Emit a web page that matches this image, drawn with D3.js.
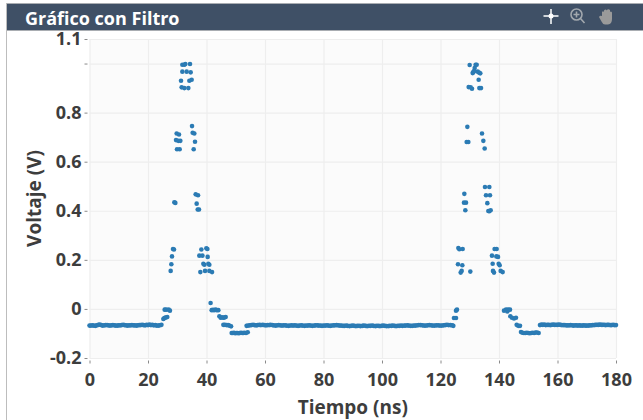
<!DOCTYPE html>
<html>
<head>
<meta charset="utf-8">
<script src="https://cdn.jsdelivr.net/npm/d3@7"></script>
<style>
  html, body { margin: 0; padding: 0; background: #fff; }
  text { font-family: "Open Sans", sans-serif; font-weight: 700; }
</style>
</head>
<body>
<div id="chart"></div>
<script>
// values
var xTicks = [0, 20, 40, 60, 80, 100, 120, 140, 160, 180];
var yTicks = [-0.2, 0, 0.2, 0.4, 0.6, 0.8, 1, 1.1];
var yTickLabels = ["-0.2", "0", "0.2", "0.4", "0.6", "0.8", "", "1.1"];

// flat part before the first pulse
var startVolts = [-0.068,-0.068,-0.067,-0.068,-0.069,-0.067,-0.065,-0.064,-0.066,-0.068,-0.067,-0.066,-0.066,-0.067,-0.068,-0.067,-0.066,-0.067,-0.068,-0.068,-0.067,-0.067,-0.066,-0.065,-0.066,-0.067,-0.068,-0.067,-0.067,-0.066,-0.067,-0.067,-0.068,-0.067,-0.066,-0.066,-0.065,-0.066,-0.067,-0.065,-0.066,-0.064,-0.066,-0.065,-0.067,-0.066,-0.068,-0.068,-0.067,-0.065];
var startTimes = [0,0.5,1,1.5,2,2.5,3,3.5,4,4.5,5,5.5,6,6.5,7,7.5,8,8.5,9,9.5,10,10.5,11,11.5,12,12.5,13,13.5,14,14.5,15,15.5,16,16.5,17,17.5,18,18.5,19,19.5,20,20.5,21,21.5,22,22.5,23,23.5,24,24.6];

// first pulse
var pulse1Times = [25.25,25.5,25.8,26.1,26.6,25.7,26.2,27.07,27.5,27.75,27.98,28.2,28.55,28.89,29,29.35,29.58,29.8,29.92,30.37,30.6,30.83,31.06,31.29,31.51,31.74,31.74,32.43,32.43,32.77,33.22,33.79,34.14,34.36,34.59,34.93,35.05,35.27,35.62,35.84,36.07,36.3,36.64,37,37.1,37.44,37.55,37.9,38.24,38.6,38.92,39.26,39.5,39.95,40.3,40.4,40.63,40.97,40.97,41.4,41.9,41.77,42.2,42.6,43.1,43.5,44.05,44.4,44.85,45.3,45.76,46.1,46.56,45.76,46.3,46.9,47.4,47.8,48.4,48.6,49,49.4,49.8,50.2,50.6,51,51.4,51.8,52.2,52.6,53,53.5,54.1];
var pulse1Volts = [-0.041,-0.038,-0.036,-0.035,-0.033,-0.003,-0.003,-0.003,-0.007,0.155,0.182,0.214,0.244,0.242,0.435,0.432,0.688,0.715,0.651,0.685,0.711,0.651,0.685,0.93,0.903,0.995,0.967,0.995,0.9,0.998,0.967,0.9,0.93,0.998,0.964,0.934,0.745,0.718,0.651,0.715,0.681,0.467,0.429,0.405,0.463,0.405,0.217,0.15,0.242,0.217,0.184,0.18,0.155,0.247,0.244,0.212,0.184,0.18,0.155,0.024,0.15,-0.005,-0.004,-0.005,-0.003,-0.005,-0.005,-0.03,-0.036,-0.034,-0.036,-0.035,-0.033,-0.065,-0.065,-0.066,-0.066,-0.068,-0.071,-0.098,-0.098,-0.097,-0.099,-0.098,-0.098,-0.099,-0.098,-0.097,-0.098,-0.098,-0.097,-0.098,-0.095];

// flat part between the pulses
var midVolts = [-0.069,-0.068,-0.067,-0.066,-0.065,-0.066,-0.067,-0.066,-0.065,-0.066,-0.065,-0.066,-0.067,-0.066,-0.066,-0.065,-0.066,-0.067,-0.068,-0.067,-0.066,-0.067,-0.068,-0.067,-0.067,-0.068,-0.069,-0.068,-0.067,-0.068,-0.067,-0.068,-0.069,-0.068,-0.067,-0.068,-0.069,-0.068,-0.068,-0.067,-0.068,-0.069,-0.068,-0.067,-0.067,-0.068,-0.068,-0.069,-0.068,-0.068,-0.067,-0.068,-0.069,-0.068,-0.067,-0.067,-0.066,-0.067,-0.068,-0.068,-0.069,-0.069,-0.068,-0.069,-0.07,-0.069,-0.068,-0.069,-0.07,-0.069,-0.069,-0.07,-0.069,-0.068,-0.069,-0.07,-0.069,-0.069,-0.068,-0.069,-0.07,-0.069,-0.069,-0.07,-0.069,-0.068,-0.069,-0.07,-0.07,-0.069,-0.069,-0.068,-0.069,-0.07,-0.069,-0.069,-0.068,-0.069,-0.068,-0.068,-0.067,-0.068,-0.069,-0.069,-0.068,-0.068];
var midTimes = [53.7,54.2,54.8,55.3,55.9,56.4,57,57.5,58.1,58.6,59.2,59.7,60.3,60.8,61.4,61.9,62.5,63,63.6,64.1,64.7,65.2,65.8,66.3,66.9,67.4,68,68.5,69.1,69.6,70.2,70.7,71.3,71.8,72.4,72.9,73.5,74,74.6,75.1,75.7,76.2,76.8,77.3,77.9,78.4,79,79.5,80.1,80.6,81.2,81.7,82.3,82.8,83.4,83.9,84.5,85,85.6,86.1,86.7,87.2,87.8,88.3,88.9,89.4,90,90.5,91.1,91.6,92.2,92.7,93.3,93.8,94.4,94.9,95.5,96,96.6,97.1,97.7,98.2,98.8,99.3,99.9,100.4,101,101.5,102.1,102.6,103.2,103.7,104.3,104.8,105.4,105.9,106.5,107,107.6,108.1,108.7,109.2,109.8,110.3,110.9,111.4];
var mid2Times = [112,112.6,113.2,113.8,114.4,115,115.6,116.2,116.8,117.4,118,118.6,119.2,119.8,120.4,121,121.6,122.2,122.8,123.4,124,124.39];
var mid2Volts = [-0.067,-0.066,-0.066,-0.067,-0.068,-0.068,-0.067,-0.066,-0.067,-0.068,-0.068,-0.067,-0.067,-0.068,-0.068,-0.067,-0.066,-0.065,-0.066,-0.066,-0.067,-0.069];

// second pulse
var pulse2Times = [124.6,125.3,125.3,125.64,125.98,126.1,126.44,126.9,127.24,127.46,127.58,128.03,128.15,128.49,128.72,128.95,129.18,129.52,129.63,129.97,130.2,130.3,130.77,131,131.2,131.45,131.68,132,132.37,132.71,133.05,133.16,133.28,133.6,133.85,134.19,134.65,135.1,135.21,135.56,136.01,136.35,136.69,136.7,136.92,137.15,137.6,137.83,137.95,138.29,138.5,139.09,139.2,139.66,139.89,140.23,140.57,141.25,141.71,142.39,142.85,143.08,143.76,143.87,144.44,145.13,145.81,146.04,146.6,147.18,147.52,148,148.5,149,149.5,150,150.5,151,151.5,152,152.5,153,153.56];
var pulse2Volts = [-0.037,-0.037,-0.007,-0.003,0.182,0.248,0.243,0.148,0.155,0.178,0.244,0.433,0.469,0.402,0.433,0.68,0.742,0.68,0.904,0.994,0.152,0.903,0.897,0.961,0.965,0.969,0.982,0.995,0.995,0.967,0.934,0.963,0.9,0.96,0.9,0.715,0.685,0.654,0.497,0.463,0.431,0.399,0.497,0.398,0.463,0.402,0.217,0.184,0.155,0.148,0.244,0.214,0.244,0.212,0.184,0.178,0.155,0.15,-0.007,-0.003,-0.01,-0.003,-0.003,-0.03,-0.036,-0.039,-0.036,-0.065,-0.069,-0.069,-0.094,-0.097,-0.098,-0.098,-0.097,-0.098,-0.099,-0.098,-0.097,-0.098,-0.096,-0.096,-0.098];

// flat part after the second pulse
var endTimes = [154,154.5,155,155.5,156,156.5,157,157.5,158,158.5,159,159.5,160,160.5,161,161.5,162,162.5,163,163.5,164,164.5,165,165.5,166,166.5,167,167.5,168,168.5,169,169.5,170,170.5,171,171.5,172,172.5,173,173.5,174,174.5,175,175.5,176,176.5,177,177.5,178,178.5,179,179.5,180];
var endVolts = [-0.066,-0.064,-0.065,-0.064,-0.066,-0.065,-0.065,-0.066,-0.065,-0.064,-0.065,-0.065,-0.065,-0.064,-0.065,-0.066,-0.066,-0.066,-0.067,-0.067,-0.067,-0.066,-0.067,-0.068,-0.067,-0.067,-0.068,-0.067,-0.068,-0.068,-0.067,-0.068,-0.068,-0.068,-0.067,-0.067,-0.066,-0.066,-0.065,-0.065,-0.065,-0.064,-0.065,-0.065,-0.065,-0.066,-0.065,-0.065,-0.066,-0.066,-0.065,-0.066,-0.066];

var points = [];
[[startTimes, startVolts], [pulse1Times, pulse1Volts], [midTimes, midVolts], [mid2Times, mid2Volts], [pulse2Times, pulse2Volts], [endTimes, endVolts]].forEach(function (s) {
  s[0].forEach(function (t, i) {
    points.push({ t: t, v: s[1][i] });
  });
});

var margin = { top: 39, right: 27, bottom: 62, left: 89.5 },
  width = 643 - margin.left - margin.right,
  height = 420 - margin.top - margin.bottom;

var root = d3.select("#chart").append("svg")
  .attr("width", 643)
  .attr("height", 420)
  .style("display", "block");

// window frame and title bar
root.append("rect").attr("x", 6).attr("y", 3).attr("width", 637).attr("height", 28).attr("fill", "#a9adb2");
root.append("rect").attr("x", 7).attr("y", 4).attr("width", 636).attr("height", 26).attr("fill", "#3f5066");
root.append("rect").attr("x", 6).attr("y", 3).attr("width", 1).attr("height", 417).attr("fill", "#bdbdbd");

root.append("text")
  .attr("x", 25)
  .attr("y", 25)
  .attr("fill", "#fff")
  .style("font-size", "18px")
  .text("Gráfico con Filtro");

// toolbar icons
var tools = root.append("g");
tools.append("path").attr("d", "M543.5 16H558.5M551 9V24").attr("stroke", "#fff").attr("stroke-width", 1.5);
tools.append("circle").attr("cx", 551).attr("cy", 16).attr("r", 2.5).attr("fill", "#fff");
tools.append("circle").attr("cx", 576.5).attr("cy", 14.5).attr("r", 5.5).attr("fill", "none").attr("stroke", "#a2a8ae").attr("stroke-width", 1.6);
tools.append("path").attr("d", "M580.5 18.5L584.5 23M573.5 14.5H579.5M576.5 11.5V17.5").attr("stroke", "#a2a8ae").attr("stroke-width", 1.6);
tools.append("path")
  .attr("d", "M602 16V12Q603 10.5 604 12V10.5Q605.5 8.5 607 10.5V9.8Q608.5 8.5 610 10V12Q611 11 612 12.5V19Q612 24 608 24.5H605Q602.5 24 601.5 21.5L599 17Q600 15 602 16Z")
  .attr("fill", "#9a9a9a");

var svg = root.append("g")
  .attr("transform", "translate(" + margin.left + "," + margin.top + ")");

svg.append("rect").attr("width", width).attr("height", height).attr("fill", "#fbfbfb");

var x = d3.scaleLinear().domain([0, 180]).range([0, width]);
var y = d3.scaleLinear().domain([-0.2, 1.1]).range([height, 0]);

// grid
svg.append("g")
  .attr("class", "grid")
  .attr("transform", "translate(0," + height + ")")
  .call(d3.axisBottom(x).tickValues(xTicks).tickSize(-height).tickFormat(""))
  .call(function (g) { g.select(".domain").remove(); })
  .selectAll("line").attr("stroke", "#eeeeee").attr("stroke-width", 1.2);

svg.append("g")
  .attr("class", "grid")
  .call(d3.axisLeft(y).tickValues(yTicks).tickSize(-width).tickFormat(""))
  .call(function (g) { g.select(".domain").remove(); })
  .selectAll("line").attr("stroke", "#eeeeee").attr("stroke-width", 1.2);

// axes, the ticks stand a little off the panel
var xAxis = svg.append("g")
  .attr("transform", "translate(0," + (height + 2.5) + ")")
  .call(d3.axisBottom(x).tickValues(xTicks).tickSize(3).tickPadding(10).tickFormat(d3.format("d")));

var yAxis = svg.append("g")
  .attr("transform", "translate(-2,0)")
  .call(d3.axisLeft(y).tickValues(yTicks).tickSize(3).tickPadding(3).tickFormat(function (d) {
    return yTickLabels[yTicks.indexOf(d)];
  }));

[xAxis, yAxis].forEach(function (a) {
  a.select(".domain").remove();
  a.selectAll("line").attr("stroke", "#8a8a8a");
  a.selectAll("text")
    .attr("fill", "#3d3d3d")
    .style("font-family", '"Open Sans", sans-serif')
    .style("font-weight", "700")
    .style("font-size", "18px");
});

// points
svg.append("g")
  .selectAll("circle")
  .data(points)
  .enter()
  .append("circle")
  .attr("cx", function (d) { return x(d.t); })
  .attr("cy", function (d) { return y(d.v); })
  .attr("r", 2.3)
  .attr("fill", "#2b7bb4");

// axis titles
svg.append("text")
  .attr("text-anchor", "middle")
  .attr("x", width / 2)
  .attr("y", height + 56)
  .attr("fill", "#3d3d3d")
  .style("font-size", "19px")
  .text("Tiempo (ns)");

svg.append("text")
  .attr("text-anchor", "middle")
  .attr("transform", "translate(-49," + (height / 2) + ") rotate(-90)")
  .attr("fill", "#3d3d3d")
  .style("font-size", "19px")
  .text("Voltaje (V)");
</script>
</body>
</html>
